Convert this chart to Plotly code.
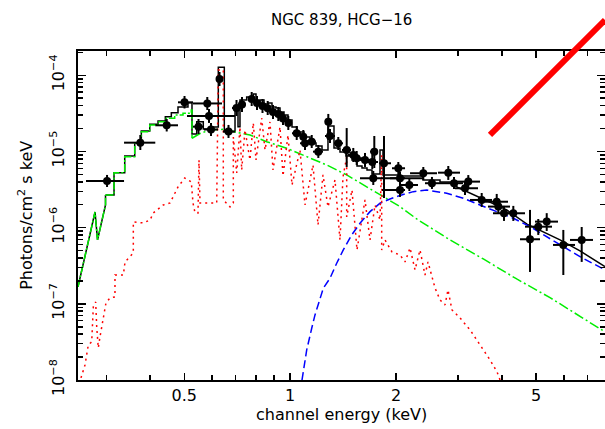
import numpy as np
import plotly.graph_objects as go

# ---------------- observed spectrum (keV, photons/cm^2/s/keV) ----------------
data_E = [0.3015, 0.3749, 0.4456, 0.5007, 0.5812, 0.5877, 0.5487, 0.5955, 0.6297, 0.6678,
          0.7038, 0.7295, 0.7773, 0.8048, 0.8343, 0.8632, 0.8936, 0.9252, 0.9541, 0.9878,
          1.0437, 1.0897, 1.1515, 1.1019, 1.2023, 1.2835, 1.2979, 1.3703, 1.4477, 1.5117,
          1.5458, 1.6322, 1.7346, 1.7120, 1.7232, 1.8482, 2.0526, 2.0300, 2.0526, 2.1818,
          2.3908, 2.5300, 2.8156, 2.9229, 3.2097, 3.1411, 3.5041, 3.8662, 3.9070, 4.0554,
          4.3100, 5.0752, 5.3635, 4.8070, 5.9792, 6.7437]
data_E_lo = [0.2627, 0.3370, 0.4135, 0.4798, 0.5293, 0.5089, 0.5293, 0.5688, 0.6194, 0.6442,
             0.6834, 0.7107, 0.7587, 0.7891, 0.8153, 0.8425, 0.8762, 0.9055, 0.9356, 0.9667,
             1.0120, 1.0664, 1.1166, 1.0664, 1.1613, 1.2561, 1.2561, 1.3322, 1.4039, 1.4601,
             1.4989, 1.5795, 1.6865, 1.6429, 1.5795, 1.7887, 1.8241, 1.9475, 1.9222, 2.0526,
             2.1918, 2.4175, 2.6322, 2.7554, 2.9421, 2.9421, 3.2456, 3.5806, 3.6516, 3.7735,
             4.0289, 4.6523, 4.9668, 4.5027, 5.5893, 6.2463]
data_E_hi = [0.3370, 0.4135, 0.4798, 0.5293, 0.6399, 0.6969, 0.5688, 0.6235, 0.6442, 0.6969,
             0.7247, 0.7488, 0.7943, 0.8207, 0.8536, 0.8820, 0.9114, 0.9479, 0.9730, 1.0120,
             1.0735, 1.1166, 1.1843, 1.1387, 1.2398, 1.3150, 1.3410, 1.4131, 1.4891, 1.5590,
             1.6004, 1.6865, 1.7771, 1.7771, 2.1213, 1.9348, 2.1213, 2.1213, 2.3861, 2.3092,
             2.6150, 2.7554, 3.0400, 3.1003, 3.4652, 3.4201, 3.7489, 4.1630, 4.2179, 4.3582,
             4.6523, 5.5527, 5.7752, 5.1319, 6.4543, 7.2622]
data_F = [4.10e-6, 1.305e-5, 2.207e-5, 4.42e-5, 4.27e-5, 2.92e-5, 2.116e-5, 1.943e-5, 8.94e-5, 1.83e-5,
          3.72e-5, 4.14e-5, 4.89e-5, 4.33e-5, 3.95e-5, 3.69e-5, 3.30e-5, 3.11e-5, 2.71e-5, 2.37e-5,
          1.733e-5, 1.564e-5, 1.344e-5, 1.281e-5, 9.94e-6, 2.46e-5, 1.597e-5, 1.281e-5, 1.046e-5, 9.00e-6,
          8.14e-6, 7.74e-6, 9.94e-6, 7.28e-6, 4.45e-6, 7.00e-6, 3.12e-6, 6.02e-6, 4.45e-6, 3.63e-6,
          5.18e-6, 3.83e-6, 5.27e-6, 3.83e-6, 4.02e-6, 3.29e-6, 2.31e-6, 2.19e-6, 1.89e-6, 1.545e-6,
          1.545e-6, 1.03e-6, 1.20e-6, 7.04e-7, 5.93e-7, 6.90e-7]
data_F_lo = [3.42e-6, 1.046e-5, 1.830e-5, 3.67e-5, 3.50e-5, 2.37e-5, 1.697e-5, 1.597e-5, 7.24e-5, 1.504e-5,
             2.92e-5, 3.30e-5, 3.95e-5, 3.50e-5, 3.20e-5, 3.01e-5, 2.67e-5, 2.51e-5, 2.23e-5, 1.915e-5,
             1.416e-5, 1.293e-5, 1.112e-5, 1.046e-5, 8.22e-6, 1.416e-5, 1.293e-5, 1.046e-5, 6.26e-6, 7.28e-6,
             6.65e-6, 6.26e-6, 6.07e-6, 5.89e-6, 3.63e-6, 2.45e-6, 2.53e-6, 4.92e-6, 3.63e-6, 3.03e-6,
             4.23e-6, 3.22e-6, 4.23e-6, 3.22e-6, 3.30e-6, 2.69e-6, 1.87e-6, 1.76e-6, 1.51e-6, 1.225e-6,
             1.225e-6, 8.02e-7, 9.05e-7, 2.62e-7, 2.39e-7, 3.55e-7]
data_F_hi = [4.92e-6, 1.647e-5, 2.670e-5, 5.35e-5, 5.19e-5, 3.61e-5, 2.67e-5, 2.37e-5, 1.105e-4, 2.23e-5,
             4.74e-5, 5.19e-5, 6.04e-5, 5.35e-5, 4.89e-5, 4.60e-5, 4.08e-5, 3.84e-5, 3.30e-5, 2.92e-5,
             2.16e-5, 1.915e-5, 1.647e-5, 1.550e-5, 1.217e-5, 3.11e-5, 1.973e-5, 1.550e-5, 2.03e-5, 1.112e-5,
             1.015e-5, 9.56e-6, 1.597e-5, 9.00e-6, 5.55e-6, 1.597e-5, 3.75e-6, 7.28e-6, 5.38e-6, 4.36e-6,
             6.26e-6, 4.63e-6, 6.45e-6, 4.63e-6, 4.90e-6, 3.98e-6, 2.85e-6, 2.77e-6, 2.38e-6, 1.93e-6,
             1.93e-6, 1.30e-6, 1.55e-6, 1.71e-6, 9.33e-7, 1.02e-6]

# ---------------- total model (black) ----------------
model_lo_E = [0.2493, 0.2787, 0.2833, 0.2985, 0.2985]
model_lo_F = [1.667e-7, 1.607e-6, 6.90e-7, 1.985e-6, 2.69e-6]
model_step_E = [0.2985, 0.3156, 0.3385, 0.3614, 0.3774, 0.3988, 0.4210, 0.4416, 0.4593, 0.4798,
                0.5122, 0.5258, 0.5423, 0.5662, 0.5916, 0.6247, 0.6497, 0.6969, 0.7107, 0.7199,
                0.7522, 0.7855, 0.7995, 0.8207, 0.8425, 0.8649, 0.8877, 0.9114, 0.9356, 0.9604,
                0.9859, 1.0120, 1.0457, 1.0947, 1.1387, 1.1843, 1.2317, 1.2809, 1.3322, 1.3856,
                1.4411, 1.4989, 1.5488, 1.6004, 1.6537, 1.7087, 1.8005, 1.8361, 2.0526, 2.3861,
                2.6669, 2.9750]
model_step_F = [2.69e-6, 5.27e-6, 8.73e-6, 1.281e-5, 1.858e-5, 2.275e-5, 2.51e-5, 2.862e-5, 3.229e-5, 3.84e-5,
                4.37e-5, 1.697e-5, 2.46e-5, 1.973e-5, 2.097e-5, 1.274e-4, 1.819e-5, 3.84e-5, 2.116e-5, 4.74e-5,
                5.19e-5, 5.68e-5, 4.46e-5, 4.74e-5, 4.20e-5, 4.33e-5, 3.84e-5, 3.72e-5, 3.30e-5, 3.01e-5,
                2.59e-5, 2.097e-5, 1.803e-5, 1.550e-5, 1.293e-5, 1.181e-5, 1.046e-5, 2.16e-5, 1.112e-5, 9.85e-6,
                8.73e-6, 7.74e-6, 6.45e-6, 6.07e-6, 5.72e-6, 5.07e-6, 1.046e-5, 4.92e-6, 4.77e-6, 4.23e-6,
                3.98e-6, 3.42e-6]
model_hi_E = [2.9750, 3.1763, 3.6043, 4.1277, 4.7136, 5.8514, 6.6689, 7.855]
model_hi_F = [3.42e-6, 2.97e-6, 2.31e-6, 1.71e-6, 1.112e-6, 6.90e-7, 4.95e-7, 3.08e-7]

# ---------------- power-law component (green) ----------------
green_lo_E = [0.2493, 0.2787, 0.2833, 0.2985, 0.2985]
green_lo_F = [1.667e-7, 1.607e-6, 6.90e-7, 1.985e-6, 2.69e-6]
green_step_E = [0.2985, 0.3156, 0.3385, 0.3614, 0.3774, 0.3988, 0.4210, 0.4444, 0.4695, 0.4958, 0.5234, 0.5258]
green_step_F = [2.69e-6, 5.27e-6, 8.55e-6, 1.281e-5, 1.819e-5, 2.23e-5, 2.46e-5, 2.73e-5, 3.01e-5, 3.17e-5, 3.50e-5, 1.491e-5]
green_E = [0.5258, 0.5541, 0.5916, 0.6527, 0.7199, 0.7686, 0.8575, 0.9775, 1.1143, 1.2700,
           1.4477, 1.6505, 1.8603, 2.0526, 2.2896, 2.8471, 3.5412, 4.4067, 5.4805, 6.8146, 7.855]
green_F = [1.491e-5, 1.722e-5, 1.915e-5, 1.956e-5, 1.749e-5, 1.647e-5, 1.344e-5, 1.102e-5, 8.55e-6, 6.65e-6,
           4.92e-6, 3.45e-6, 2.45e-6, 1.89e-6, 1.30e-6, 6.90e-7, 3.88e-7, 2.12e-7, 1.206e-7, 6.43e-8, 4.28e-8]

# ---------------- hard absorbed component (blue) ----------------
blue_E = [1.0805, 1.1143, 1.1515, 1.1765, 1.2422, 1.2979, 1.3560, 1.4160, 1.4960, 1.5795,
          1.6865, 1.8005, 1.9222, 2.0526, 2.2392, 2.4446, 2.7862, 3.1064, 3.4652, 3.8662,
          4.3100, 4.8070, 5.3635, 5.9792, 6.6689, 7.855]
blue_F = [1.0e-8, 2.48e-8, 4.78e-8, 7.15e-8, 1.602e-7, 2.17e-7, 3.41e-7, 5.10e-7, 8.02e-7, 1.142e-6,
          1.622e-6, 2.09e-6, 2.38e-6, 2.65e-6, 2.97e-6, 3.12e-6, 2.83e-6, 2.43e-6, 1.985e-6, 1.622e-6,
          1.328e-6, 1.03e-6, 7.62e-7, 5.63e-7, 4.16e-7, 2.79e-7]

# ---------------- thermal component (red) ----------------
red_E = [0.2542, 0.2610, 0.2667, 0.2727, 0.2756, 0.2799, 0.2818, 0.2847, 0.2879, 0.2942,
         0.2994, 0.3074, 0.3176, 0.3176, 0.3355, 0.3392, 0.3581, 0.3581, 0.3823, 0.3996,
         0.4083, 0.4357, 0.4554, 0.4798, 0.5013, 0.5234, 0.5293, 0.5363, 0.5469, 0.5505,
         0.5541, 0.6182, 0.6247, 0.6455, 0.6455, 0.6745, 0.6892, 0.6892, 0.7047, 0.7199,
         0.7280, 0.7439, 0.7686, 0.7855, 0.7995, 0.8299, 0.8481, 0.8762, 0.8936, 0.9356,
         0.9541, 0.9859, 1.0120, 1.0664, 1.1019, 1.1613, 1.2000, 1.2398, 1.2809, 1.3410,
         1.3856, 1.4131, 1.4477, 1.4477, 1.4989, 1.5488, 1.6322, 1.6865, 1.7425, 1.8005,
         1.8205, 1.8205, 1.8603, 1.9475, 2.0526, 2.1213, 2.1918, 2.2643, 2.3396, 2.4175,
         2.4655, 2.5810, 2.6669, 2.7554, 2.8101, 2.8849, 3.0400, 3.2456, 3.4652, 3.6997,
         3.8738, 3.9508]
red_F = [1.066e-8, 1.578e-8, 2.89e-8, 3.16e-8, 9.11e-8, 1.059e-7, 4.97e-8, 2.64e-8, 3.68e-8, 6.73e-8,
         1.028e-7, 1.195e-7, 1.232e-7, 2.39e-7, 2.39e-7, 3.55e-7, 4.66e-7, 1.188e-6, 1.153e-6, 1.262e-6,
         1.560e-6, 1.985e-6, 2.11e-6, 3.42e-6, 4.49e-6, 3.98e-6, 2.11e-6, 1.560e-6, 1.560e-6, 7.74e-6,
         2.11e-6, 2.11e-6, 1.174e-4, 1.174e-4, 2.31e-6, 1.87e-6, 2.11e-6, 1.550e-5, 5.22e-6, 2.097e-5,
         5.72e-6, 1.915e-5, 7.74e-6, 2.37e-5, 7.74e-6, 2.75e-5, 1.046e-5, 2.44e-5, 5.72e-6, 2.097e-5,
         4.77e-6, 1.647e-5, 3.63e-6, 1.046e-5, 1.985e-6, 6.65e-6, 1.085e-6, 4.92e-6, 1.87e-6, 4.23e-6,
         6.90e-7, 4.63e-6, 8.47e-6, 1.382e-6, 3.12e-6, 5.10e-7, 2.31e-6, 6.90e-7, 1.985e-6, 1.262e-6,
         9.00e-6, 5.10e-7, 6.90e-7, 4.80e-7, 4.38e-7, 3.55e-7, 5.42e-7, 2.79e-7, 5.10e-7, 2.39e-7,
         3.55e-7, 1.617e-7, 1.125e-7, 9.67e-8, 1.523e-7, 8.32e-8, 6.53e-8, 4.55e-8, 2.89e-8, 1.836e-8,
         1.278e-8, 1.0e-8]

# thick red marker line (keV, flux)
slash_E = [3.70, 7.855]
slash_F = [1.647e-5, 5.32e-4]

# axes
E_MIN, E_MAX = 0.2493, 7.855
F_MIN_LOG, F_MAX_LOG = -8.0, -3.681
x_tickvals = [0.5, 1, 2, 5]
x_ticktext = ["0.5", "1", "2", "5"]
x_minor = [0.3, 0.4, 0.6, 0.7, 0.8, 0.9, 3, 4, 6, 7]
y_tickvals = [1e-8, 1e-7, 1e-6, 1e-5, 1e-4]
y_ticktext = ["10<sup>\u22128</sup>", "10<sup>\u22127</sup>", "10<sup>\u22126</sup>",
              "10<sup>\u22125</sup>", "10<sup>\u22124</sup>"]
y_minor = [m * 10.0 ** e for e in range(-8, -3) for m in range(2, 10)]

FONT = "DejaVu Sans"

fig = go.Figure()

# model components
fig.add_trace(go.Scatter(x=model_lo_E, y=model_lo_F, mode="lines",
                         line=dict(color="black", width=1.5), hoverinfo="skip"))
fig.add_trace(go.Scatter(x=model_step_E, y=model_step_F, mode="lines",
                         line=dict(color="black", width=1.5, shape="hv"), hoverinfo="skip"))
fig.add_trace(go.Scatter(x=model_hi_E, y=model_hi_F, mode="lines",
                         line=dict(color="black", width=1.5), hoverinfo="skip"))

fig.add_trace(go.Scatter(x=green_lo_E, y=green_lo_F, mode="lines",
                         line=dict(color="#00ee00", width=1.5, dash="8px,2px,2px,2px"), hoverinfo="skip"))
fig.add_trace(go.Scatter(x=green_step_E, y=green_step_F, mode="lines",
                         line=dict(color="#00ee00", width=1.5, shape="hv", dash="8px,2px,2px,2px"),
                         hoverinfo="skip"))
fig.add_trace(go.Scatter(x=green_E, y=green_F, mode="lines",
                         line=dict(color="#00ee00", width=1.5, dash="10px,3px,2px,3px"), hoverinfo="skip"))

fig.add_trace(go.Scatter(x=blue_E, y=blue_F, mode="lines",
                         line=dict(color="#0000ff", width=1.5, dash="8px,4px"), hoverinfo="skip"))

fig.add_trace(go.Scatter(x=red_E, y=red_F, mode="lines",
                         line=dict(color="#ff0000", width=1.5, dash="2px,4px"), hoverinfo="skip"))

# data with error bars
E = np.array(data_E)
F = np.array(data_F)
fig.add_trace(go.Scatter(
    x=E, y=F, mode="markers",
    marker=dict(symbol="circle", size=8, color="black"),
    error_x=dict(type="data", symmetric=False,
                 array=np.array(data_E_hi) - E, arrayminus=E - np.array(data_E_lo),
                 thickness=2, width=0, color="black"),
    error_y=dict(type="data", symmetric=False,
                 array=np.array(data_F_hi) - F, arrayminus=F - np.array(data_F_lo),
                 thickness=2, width=0, color="black"),
    hoverinfo="skip"))

# thick red slash (drawn unclipped, positioned from its data values)
xr = [np.log10(E_MIN), np.log10(E_MAX)]
yr = [F_MIN_LOG, F_MAX_LOG]
def to_px(e):
    return (np.log10(e) - xr[0]) / (xr[1] - xr[0])
def to_py(f):
    return (np.log10(f) - yr[0]) / (yr[1] - yr[0])
fig.add_shape(type="line", xref="paper", yref="paper",
              x0=to_px(slash_E[0]), y0=to_py(slash_F[0]),
              x1=to_px(slash_E[1]), y1=to_py(slash_F[1]),
              line=dict(color="#ff0000", width=6))

axis_common = dict(showline=True, linecolor="black", linewidth=2, mirror="allticks",
                   ticks="inside", tickcolor="black", tickwidth=1.5,
                   showgrid=False, zeroline=False, automargin=False,
                   tickfont=dict(family=FONT, size=16, color="black"))

fig.update_xaxes(type="log", range=xr, tickmode="array", tickvals=x_tickvals, ticktext=x_ticktext,
                 ticklen=7, ticklabelstandoff=0,
                 minor=dict(tickmode="array", tickvals=x_minor, ticks="inside", ticklen=5,
                            tickwidth=1.5, tickcolor="black", showgrid=False),
                 **axis_common)
fig.update_yaxes(type="log", range=yr, tickmode="array", tickvals=y_tickvals, ticktext=y_ticktext,
                 ticklen=8, tickangle=-90, ticklabelstandoff=6,
                 minor=dict(tickmode="array", tickvals=y_minor, ticks="inside", ticklen=5,
                            tickwidth=1.5, tickcolor="black", showgrid=False),
                 **axis_common)

fig.update_layout(
    width=605, height=429,
    margin=dict(l=78, r=0, t=51, b=49),
    paper_bgcolor="white", plot_bgcolor="white",
    showlegend=False,
    annotations=[
        dict(text="NGC 839, HCG\u221216", xref="paper", yref="paper", x=0.5, y=1.094,
             xanchor="center", yanchor="middle", showarrow=False,
             font=dict(family=FONT, size=15, color="black")),
        dict(text="channel energy (keV)", xref="paper", yref="paper", x=0.5, y=-0.106,
             xanchor="center", yanchor="middle", showarrow=False,
             font=dict(family=FONT, size=16, color="black")),
        dict(text="Photons/cm<sup>2</sup> s keV", xref="paper", yref="paper", x=-0.100, y=0.5,
             xanchor="center", yanchor="middle", showarrow=False, textangle=-90,
             font=dict(family=FONT, size=16, color="black")),
    ],
)

fig.write_html("out.html", config={"displayModeBar": False, "staticPlot": True},
               post_script="document.body.style.margin='0px';document.body.style.overflow='hidden';")
